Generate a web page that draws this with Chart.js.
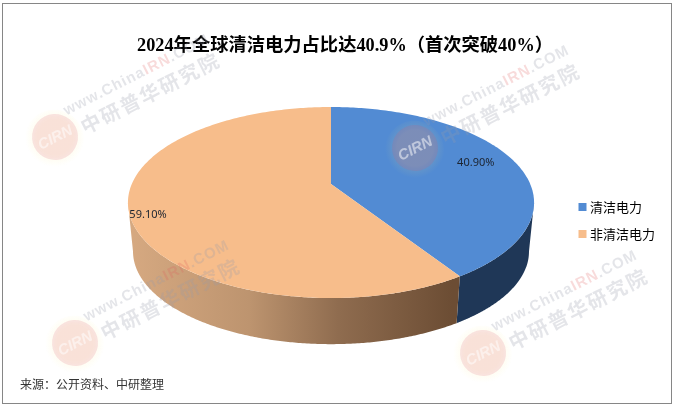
<!DOCTYPE html>
<html lang="zh">
<head>
<meta charset="utf-8">
<title>2024年全球清洁电力占比</title>
<script src="https://cdn.jsdelivr.net/npm/chart.js@4"></script>
<style>
    html, body { margin: 0; padding: 0; background: #fff; }
    canvas { display: block; }
</style>
</head>
<body>
<canvas id="chart" width="678" height="407"></canvas>
<script>
// data
const categories = ['清洁电力', '非清洁电力'];
const shares = [40.9, 59.1];
const shareLabels = ['40.90%', '59.10%'];
const titleText = '2024年全球清洁电力占比达40.9%（首次突破40%）';
const sourceText = '来源：公开资料、中研整理';

// colours
const topColors = ['#528bd3', '#f7bd8b'];

// the pie is a tilted disc seen in perspective
const apexX = 331, apexY = 184;
const scaleX = 199.2, scaleY = 91.9, tilt = -0.194;
const wallDepth = 49, wallShrinkX = 0.975, wallShrinkY = 0.97, rimCenterY = 202.5;
const labelRadius = [0.79, 0.91];
const labelShiftY = [-2, 6];

function project(angle, r) {
    const u = Math.cos(angle) * r, v = Math.sin(angle) * r;
    const w = 1 + tilt * v;
    return { x: apexX + scaleX * u / w, y: apexY + scaleY * v / w };
}
function projectLow(angle) {
    const p = project(angle, 1);
    return {
        x: apexX + (p.x - apexX) * wallShrinkX,
        y: rimCenterY + wallDepth + (p.y - rimCenterY) * wallShrinkY
    };
}

class Arc3D extends Chart.ArcElement {
    static id = 'arc3d';
    draw(ctx) {
        const start = this.startAngle, end = this.endAngle;
        const steps = Math.max(8, Math.ceil((end - start) * 60));
        const i = this.$context ? this.$context.dataIndex : 0;

        // side wall, between the widest points of the rim
        const edge = Math.asin(-tilt);
        const a0 = Math.max(start, edge), a1 = Math.min(end, Math.PI - edge);
        if (a1 > a0) {
            ctx.save();
            const g = ctx.createLinearGradient(128, 0, 533, 0);
            if (i === 0) {
                g.addColorStop(0, '#1f3757');
                g.addColorStop(1, '#1f3757');
            } else {
                g.addColorStop(0, '#d6a981');
                g.addColorStop(0.3, '#bd946f');
                g.addColorStop(0.52, '#8f6c4f');
                g.addColorStop(0.8, '#6c4d34');
                g.addColorStop(1, '#6c4d34');
            }
            ctx.fillStyle = g;
            ctx.beginPath();
            for (let s = 0; s <= steps; s++) {
                const p = project(a0 + (a1 - a0) * s / steps, 1);
                if (s === 0) ctx.moveTo(p.x, p.y); else ctx.lineTo(p.x, p.y);
            }
            for (let s = steps; s >= 0; s--) {
                const p = projectLow(a0 + (a1 - a0) * s / steps);
                ctx.lineTo(p.x, p.y);
            }
            ctx.closePath();
            ctx.fill();
            ctx.restore();
        }

        // top face
        ctx.save();
        ctx.fillStyle = this.options.backgroundColor;
        ctx.beginPath();
        ctx.moveTo(apexX, apexY);
        for (let s = 0; s <= steps; s++) {
            const p = project(start + (end - start) * s / steps, 1);
            ctx.lineTo(p.x, p.y);
        }
        ctx.closePath();
        ctx.fill();
        ctx.restore();
    }
}
Chart.register(Arc3D);
Chart.defaults.datasets.pie.dataElementType = 'arc3d';

const frameAndLabels = {
    id: 'frameAndLabels',
    afterDatasetsDraw(chart) {
        const ctx = chart.ctx;
        const arcs = chart.getDatasetMeta(0).data;
        ctx.save();
        ctx.font = '11px "Noto Sans", "Noto Sans CJK SC", sans-serif';
        ctx.fillStyle = '#1c2430';
        ctx.textAlign = 'center';
        ctx.textBaseline = 'middle';
        arcs.forEach((arc, i) => {
            const p = project((arc.startAngle + arc.endAngle) / 2, labelRadius[i]);
            ctx.fillText(shareLabels[i], p.x, p.y + labelShiftY[i]);
        });
        ctx.restore();
    },
    afterDraw(chart) {
        const ctx = chart.ctx;
        ctx.save();
        [[55, 137], [415, 148], [75, 343], [483, 353]].forEach(m => drawWatermark(ctx, m[0], m[1]));

        ctx.font = '12px "Noto Sans CJK SC", sans-serif';
        ctx.fillStyle = '#333';
        ctx.textAlign = 'left';
        ctx.textBaseline = 'middle';
        ctx.fillText(sourceText, 20, 384);

        ctx.strokeStyle = '#868686';
        ctx.lineWidth = 1;
        ctx.strokeRect(2.5, 3.5, 669, 400);
        ctx.restore();
    }
};

function drawWatermark(ctx, x, y) {
    ctx.save();
    ctx.translate(x, y);
    ctx.rotate(-27 * Math.PI / 180);

    const glow = ctx.createRadialGradient(0, 0, 18, 0, 0, 30);
    glow.addColorStop(0, 'rgba(255,235,120,0.14)');
    glow.addColorStop(1, 'rgba(255,235,120,0)');
    ctx.fillStyle = glow;
    ctx.beginPath();
    ctx.arc(-2, 2, 30, 0, Math.PI * 2);
    ctx.fill();

    ctx.fillStyle = 'rgba(215,85,115,0.16)';
    ctx.beginPath();
    ctx.arc(0, 0, 23, 0, Math.PI * 2);
    ctx.fill();

    ctx.fillStyle = 'rgba(255,255,255,0.5)';
    ctx.font = 'italic bold 15px "Liberation Sans", sans-serif';
    ctx.textAlign = 'center';
    ctx.textBaseline = 'middle';
    ctx.fillText('CIRN', 0, 1);

    ctx.textAlign = 'left';
    ctx.fillStyle = 'rgba(150,155,170,0.26)';
    ctx.font = 'bold 20px "Noto Sans CJK SC", sans-serif';
    ctx.letterSpacing = '2px';
    ctx.fillText('中研普华研究院', 28, 4);

    ctx.font = 'bold 15px "Liberation Sans", sans-serif';
    ctx.letterSpacing = '1px';
    let tx = 20;
    [['www.China', 'rgba(150,155,170,0.26)'], ['IRN', 'rgba(225,90,90,0.22)'], ['.COM', 'rgba(150,155,170,0.26)']].forEach(part => {
        ctx.fillStyle = part[1];
        ctx.fillText(part[0], tx, -18);
        tx += ctx.measureText(part[0]).width;
    });
    ctx.restore();
}

new Chart(document.getElementById('chart'), {
    type: 'pie',
    data: {
        labels: categories,
        // the arcs ignore the border; the legend uses it to grow its small box
        datasets: [{ data: shares, backgroundColor: topColors, borderColor: topColors, borderWidth: 6 }]
    },
    options: {
        responsive: false,
        animation: false,
        layout: { padding: { top: 4, right: 13, bottom: 33, left: 25 } },
        plugins: {
            title: {
                display: true,
                text: titleText,
                color: '#000',
                font: { family: '"Liberation Serif", "Noto Sans CJK SC", serif', size: 18.3, weight: 'bold' },
                padding: { top: 31, bottom: 10 }
            },
            legend: {
                position: 'right',
                fullSize: false,
                labels: {
                    boxWidth: 2,
                    boxHeight: 2,
                    padding: 14,
                    color: '#000',
                    font: { family: '"Noto Sans CJK SC", sans-serif', size: 13 }
                }
            },
            tooltip: { enabled: false }
        }
    },
    plugins: [frameAndLabels]
});
</script>
</body>
</html>
